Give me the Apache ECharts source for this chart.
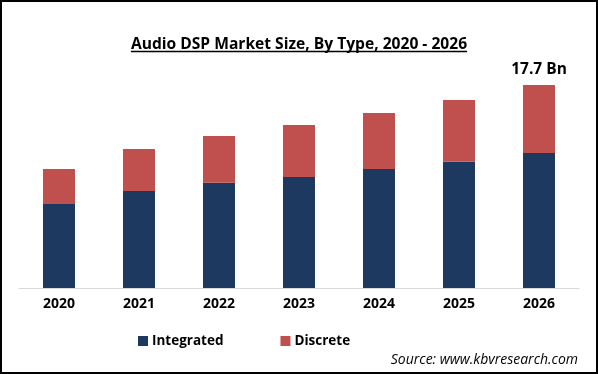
<!DOCTYPE html>
<html>
<head>
<meta charset="utf-8">
<script src="https://cdn.jsdelivr.net/npm/echarts@6/dist/echarts.min.js"></script>
<style>
html,body{margin:0;padding:0;background:#fff;}
#frame{width:598px;height:374px;box-sizing:border-box;border:2px solid #000;position:relative;overflow:hidden;}
#chart{position:absolute;left:-2px;top:-2px;width:598px;height:374px;}
</style>
</head>
<body>
<div id="frame"><div id="chart"></div></div>
<script>
const categories = ['2020','2021','2022','2023','2024','2025','2026'];
const integrated = [7.32, 8.46, 9.18, 9.68, 10.37, 11.01, 11.77];
const discrete = [3.05, 3.66, 4.07, 4.53, 4.89, 5.38, 5.93];
const topLabel = '17.7 Bn';
const titleText = 'Audio DSP Market Size, By Type, 2020 - 2026';
const sourceText = 'Source: www.kbvresearch.com';

const FONT = '"Open Sans", sans-serif';
const TITLE_SIZE = 15.6;
const chart = echarts.init(document.getElementById('chart'), null, {renderer:'canvas'});
const lastIdx = categories.length - 1;
const ctx = document.createElement('canvas').getContext('2d');
ctx.font = 'bold ' + TITLE_SIZE + 'px "Open Sans"';
const tw = ctx.measureText(titleText).width;
chart.setOption({
  animation:false,
  textStyle:{fontFamily:FONT},
  title:{
    text:titleText, left:'center', top:32,
    textStyle:{fontFamily:FONT, fontSize:TITLE_SIZE, fontWeight:'bold', color:'#000'}
  },
  legend:{
    left:133, top:329, itemWidth:10, itemHeight:10, itemGap:57,
    icon:'rect',
    textStyle:{fontFamily:FONT, fontSize:13.5, fontWeight:'bold', color:'#000', padding:[0,0,0,-1]},
    data:['Integrated','Discrete']
  },
  grid:{left:19, right:19, top:58.6, bottom:86},
  xAxis:{
    type:'category', data:categories,
    axisLine:{lineStyle:{color:'#d9d9d9', width:1}},
    axisTick:{show:false},
    axisLabel:{fontFamily:FONT, fontSize:14, fontWeight:'bold', color:'#000', margin:9}
  },
  yAxis:{type:'value', min:0, max:20, show:false, splitLine:{show:false}},
  series:[
    {name:'Integrated', type:'bar', stack:'t', barWidth:32, data:integrated,
     itemStyle:{color:'#1d3960'}},
    {name:'Discrete', type:'bar', stack:'t', barWidth:32,
     data:discrete.map((v,i)=> i===lastIdx ? {value:v, label:{show:true, position:'top', distance:7, formatter:topLabel, fontFamily:FONT, fontSize:15.5, fontWeight:'bold', color:'#000'}} : v),
     itemStyle:{color:'#c0504d'}}
  ],
  graphic:[
    {type:'text', right:20, top:353, style:{text:sourceText, font:'italic 14px "Open Sans", sans-serif', fill:'#000'}},
    {type:'line', shape:{x1:299-tw/2, y1:51.5, x2:299+tw/2, y2:51.5}, style:{stroke:'#000', lineWidth:1.3}}
  ]
});
</script>
</body>
</html>
